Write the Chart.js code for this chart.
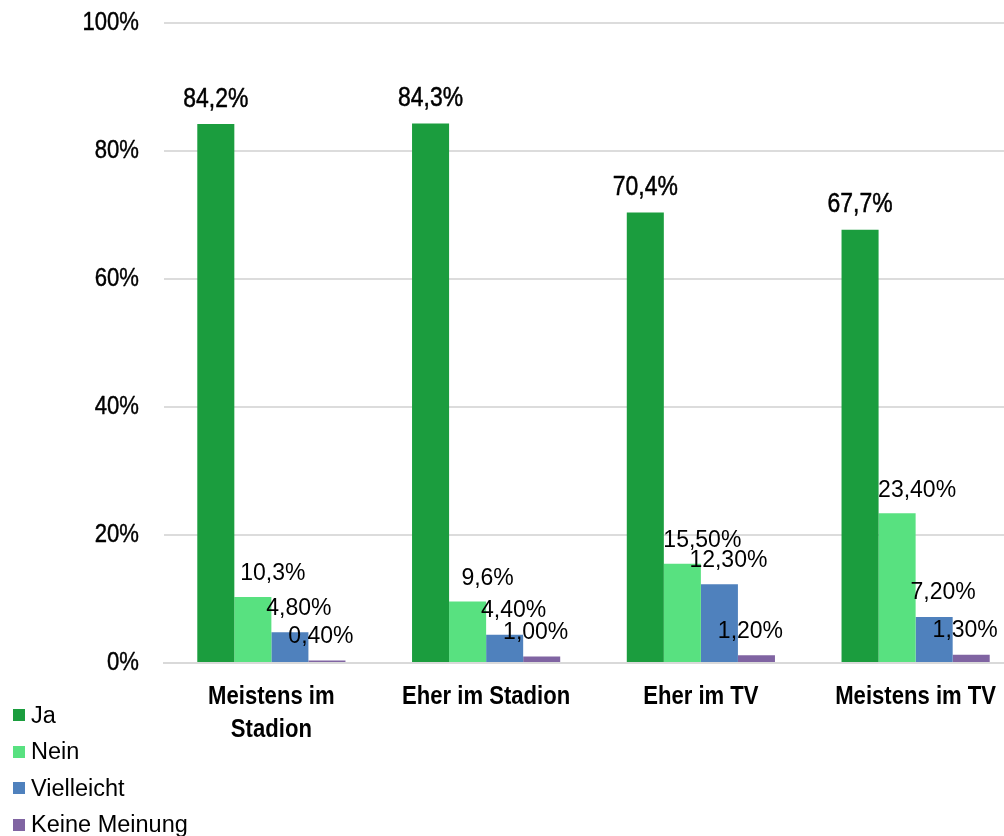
<!DOCTYPE html>
<html lang="de">
<head>
<meta charset="utf-8">
<title>Stadion oder TV</title>
<script src="https://cdn.jsdelivr.net/npm/chart.js@4/dist/chart.umd.min.js"></script>
<style>
  html, body { margin: 0; padding: 0; background: #ffffff; }
  #wrap { position: relative; width: 1004px; height: 836px; overflow: hidden; }
  #chart { position: absolute; left: 0; top: 0; }
  #legend { position: absolute; left: 13px; top: 697px; font-family: "Liberation Sans", Arial, sans-serif; font-size: 23.5px; color: #000; }
  #legend .item { display: flex; align-items: center; height: 36.5px; }
  #legend .box { width: 12px; height: 12px; margin-right: 6px; }
</style>
</head>
<body>
<div id="wrap">
  <canvas id="chart" width="1024" height="836"></canvas>
  <div id="legend"></div>
</div>
<script>
// Categories (multi-line labels as arrays)
const categories = [['Meistens im', 'Stadion'], 'Eher im Stadion', 'Eher im TV', 'Meistens im TV'];

// Shares in percent, written with the precision that is printed on the bars
const jaValues = ['84.2', '84.3', '70.4', '67.7'];
const neinValues = ['10.3', '9.6', '15.50', '23.40'];
const vielleichtValues = ['4.80', '4.40', '12.30', '7.20'];
const keineMeinungValues = ['0.40', '1.00', '1.20', '1.30'];

const seriesNames = ['Ja', 'Nein', 'Vielleicht', 'Keine Meinung'];
const yTicks = [0, 20, 40, 60, 80, 100];

const sans = '"Liberation Sans", Arial, sans-serif';
// condensed look: regular sans squeezed horizontally
const NARROW = 0.85;

const toLabel = s => s.replace('.', ',') + '%';

// squeeze: horizontal scale; heavy: extra outline width for a medium weight
function drawText(ctx, text, x, y, squeeze, heavy) {
  ctx.save();
  ctx.translate(x, y);
  ctx.scale(squeeze, 1);
  ctx.fillText(text, 0, 0);
  if (heavy) {
    ctx.lineWidth = heavy;
    ctx.strokeStyle = ctx.fillStyle;
    ctx.lineJoin = 'round';
    ctx.strokeText(text, 0, 0);
  }
  ctx.restore();
}

function makeSet(name, raw, color, labelStyle) {
  return {
    label: name,
    data: raw.map(Number),
    rawText: raw,
    backgroundColor: color,
    borderWidth: 0,
    labelStyle: labelStyle
  };
}

const datasets = [
  makeSet(seriesNames[0], jaValues, '#1b9d3e', { font: '27px ' + sans, squeeze: NARROW, heavy: 0.5, dx: 0, dy: 25 }),
  makeSet(seriesNames[1], neinValues, '#58e180', { font: '23px ' + sans, squeeze: 1, heavy: 0, dx: 20, dy: 23 }),
  makeSet(seriesNames[2], vielleichtValues, '#4f81bd', { font: '23px ' + sans, squeeze: 1, heavy: 0, dx: 9, dy: 24 }),
  makeSet(seriesNames[3], keineMeinungValues, '#8064a2', { font: '23px ' + sans, squeeze: 1, heavy: 0, dx: -6, dy: 24 })
];

// Value labels above each bar
const valueLabels = {
  id: 'valueLabels',
  afterDatasetsDraw(chart) {
    const ctx = chart.ctx;
    ctx.save();
    ctx.fillStyle = '#000000';
    ctx.textAlign = 'center';
    ctx.textBaseline = 'middle';
    chart.data.datasets.forEach((ds, i) => {
      const meta = chart.getDatasetMeta(i);
      const st = ds.labelStyle;
      ctx.font = st.font;
      meta.data.forEach((bar, j) => {
        drawText(ctx, toLabel(ds.rawText[j]), bar.x + st.dx, bar.y - st.dy, st.squeeze, st.heavy);
      });
    });
    ctx.restore();
  }
};

// Condensed axis labels, placed from the chart's own scales
const axisLabels = {
  id: 'axisLabels',
  afterDraw(chart) {
    const ctx = chart.ctx;
    const xs = chart.scales.x, ys = chart.scales.y;
    ctx.save();
    ctx.fillStyle = '#000000';
    ctx.textBaseline = 'middle';

    ctx.font = '26px ' + sans;
    ctx.textAlign = 'right';
    yTicks.forEach(v => {
      drawText(ctx, v + '%', chart.chartArea.left - 25, ys.getPixelForValue(v), NARROW, 0.45);
    });

    ctx.font = 'bold 26px ' + sans;
    ctx.textAlign = 'center';
    chart.data.labels.forEach((lab, i) => {
      const lines = Array.isArray(lab) ? lab : [lab];
      const x = xs.getPixelForTick(i);
      lines.forEach((line, k) => {
        drawText(ctx, line, x, chart.chartArea.bottom + 34 + k * 33, NARROW, 0);
      });
    });
    ctx.restore();
  }
};

const chart = new Chart(document.getElementById('chart'), {
  type: 'bar',
  data: { labels: categories, datasets: datasets },
  options: {
    responsive: false,
    animation: false,
    devicePixelRatio: 1,
    layout: { padding: { left: 0, right: 1, top: 23, bottom: 0 } },
    plugins: { legend: { display: false }, tooltip: { enabled: false } },
    datasets: { bar: { categoryPercentage: 0.69, barPercentage: 1.0 } },
    scales: {
      x: {
        grid: { display: false, drawTicks: false },
        border: { display: true, color: '#d9d9d9', width: 2 },
        ticks: { display: false },
        afterFit(scale) { scale.height = 173; }
      },
      y: {
        min: 0,
        max: 100,
        afterBuildTicks(scale) { scale.ticks = yTicks.map(v => ({ value: v })); },
        grid: { color: '#dcdcdc', lineWidth: 2, drawTicks: false },
        border: { display: false },
        ticks: { display: false },
        afterFit(scale) { scale.width = 164; }
      }
    }
  },
  plugins: [valueLabels, axisLabels]
});

// Legend listing the series colours
const legend = document.getElementById('legend');
chart.data.datasets.forEach(ds => {
  const item = document.createElement('div');
  item.className = 'item';
  const box = document.createElement('span');
  box.className = 'box';
  box.style.background = ds.backgroundColor;
  const text = document.createElement('span');
  text.textContent = ds.label;
  item.appendChild(box);
  item.appendChild(text);
  legend.appendChild(item);
});
</script>
</body>
</html>
